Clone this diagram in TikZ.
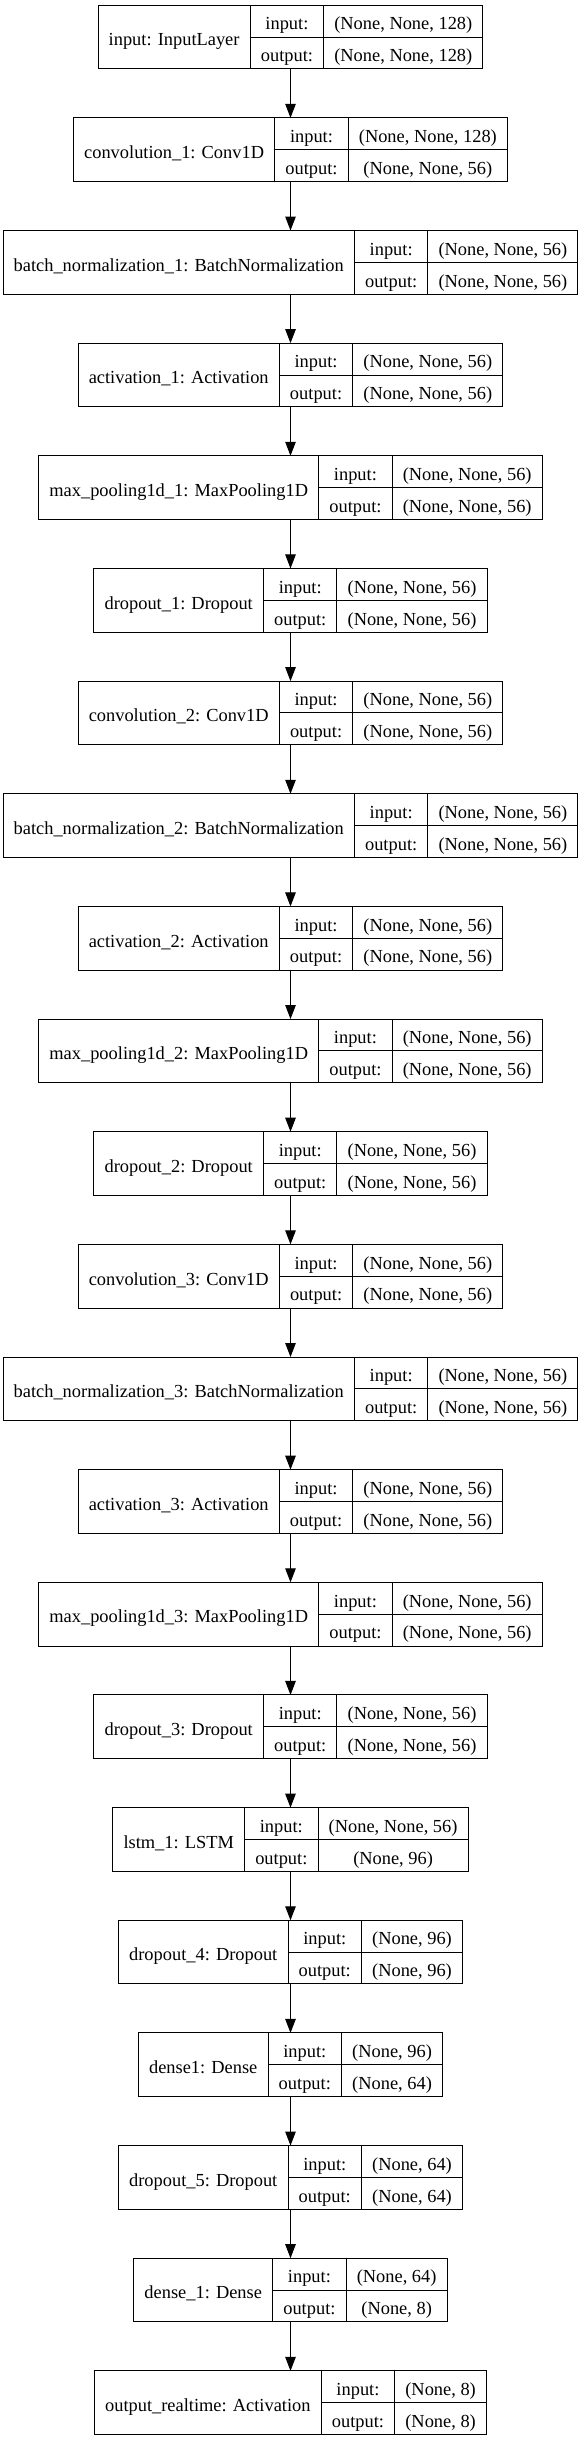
\documentclass[tikz,border=0pt]{standalone}
\usepackage{fontspec}
\setmainfont{Liberation Serif}
\usetikzlibrary{arrows.meta}
\newcommand\lf{\normalfont\fontsize{18.4}{22}\selectfont}
\newcommand\pd{21.33}
\newcommand\cx{290.5}
\newcommand\bh{63.7}
\newcommand\rh{31.85}
\newdimen\mwa \newdimen\mwb \newdimen\mwc \newdimen\mwd
\makeatletter
\newcommand\deflayer[5]{%
  \settowidth\mwa{\lf #3}%
  \settowidth\mwb{\lf output:}%
  \settowidth\mwc{\lf #4}%
  \settowidth\mwd{\lf #5}%
  \ifdim\mwd>\mwc \mwc=\mwd\fi
  \advance\mwa by \pd pt\relax
  \advance\mwb by \pd pt\relax
  \advance\mwc by \pd pt\relax
  \expandafter\xdef\csname wa@#1\endcsname{\strip@pt\mwa}%
  \expandafter\xdef\csname wb@#1\endcsname{\strip@pt\mwb}%
  \expandafter\xdef\csname wc@#1\endcsname{\strip@pt\mwc}%
  \expandafter\gdef\csname lb@#1\endcsname{#3}%
  \expandafter\gdef\csname in@#1\endcsname{#4}%
  \expandafter\gdef\csname ou@#1\endcsname{#5}%
  \expandafter\xdef\csname ix@#1\endcsname{#2}}
\newcommand\drawlayer[1]{%
  \edef\wa{\csname wa@#1\endcsname}%
  \edef\wb{\csname wb@#1\endcsname}%
  \edef\wc{\csname wc@#1\endcsname}%
  \edef\ix{\csname ix@#1\endcsname}%
  \pgfmathsetmacro\ww{\wa+\wb+\wc}%
  \pgfmathsetmacro\lx{\cx-\ww/2}%
  \pgfmathsetmacro\ty{5.2+112.65*\ix}%
  \node[outerbox, minimum width=\ww pt, anchor=north west] (#1) at (\lx,\ty) {};
  \node[field, minimum width=\wa pt, minimum height=\bh pt, anchor=north west] (#1-l) at (#1.north west) {\csname lb@#1\endcsname};
  \node[field, minimum width=\wb pt, anchor=north west] (#1-ik) at (#1-l.north east) {input:};
  \node[field, minimum width=\wb pt, anchor=north west] (#1-ok) at (#1-ik.south west) {output:};
  \node[field, minimum width=\wc pt, anchor=north west] (#1-iv) at (#1-ik.north east) {\csname in@#1\endcsname};
  \node[field, minimum width=\wc pt, anchor=north west] (#1-ov) at (#1-iv.south west) {\csname ou@#1\endcsname};
}
\makeatother
\AtBeginDocument{%
\deflayer{n0}{0}{input: InputLayer}{(None, None, 128)}{(None, None, 128)}%
\deflayer{n1}{1}{convolution\_1: Conv1D}{(None, None, 128)}{(None, None, 56)}%
\deflayer{n2}{2}{batch\_normalization\_1: BatchNormalization}{(None, None, 56)}{(None, None, 56)}%
\deflayer{n3}{3}{activation\_1: Activation}{(None, None, 56)}{(None, None, 56)}%
\deflayer{n4}{4}{max\_pooling1d\_1: MaxPooling1D}{(None, None, 56)}{(None, None, 56)}%
\deflayer{n5}{5}{dropout\_1: Dropout}{(None, None, 56)}{(None, None, 56)}%
\deflayer{n6}{6}{convolution\_2: Conv1D}{(None, None, 56)}{(None, None, 56)}%
\deflayer{n7}{7}{batch\_normalization\_2: BatchNormalization}{(None, None, 56)}{(None, None, 56)}%
\deflayer{n8}{8}{activation\_2: Activation}{(None, None, 56)}{(None, None, 56)}%
\deflayer{n9}{9}{max\_pooling1d\_2: MaxPooling1D}{(None, None, 56)}{(None, None, 56)}%
\deflayer{n10}{10}{dropout\_2: Dropout}{(None, None, 56)}{(None, None, 56)}%
\deflayer{n11}{11}{convolution\_3: Conv1D}{(None, None, 56)}{(None, None, 56)}%
\deflayer{n12}{12}{batch\_normalization\_3: BatchNormalization}{(None, None, 56)}{(None, None, 56)}%
\deflayer{n13}{13}{activation\_3: Activation}{(None, None, 56)}{(None, None, 56)}%
\deflayer{n14}{14}{max\_pooling1d\_3: MaxPooling1D}{(None, None, 56)}{(None, None, 56)}%
\deflayer{n15}{15}{dropout\_3: Dropout}{(None, None, 56)}{(None, None, 56)}%
\deflayer{n16}{16}{lstm\_1: LSTM}{(None, None, 56)}{(None, 96)}%
\deflayer{n17}{17}{dropout\_4: Dropout}{(None, 96)}{(None, 96)}%
\deflayer{n18}{18}{dense1: Dense}{(None, 96)}{(None, 64)}%
\deflayer{n19}{19}{dropout\_5: Dropout}{(None, 64)}{(None, 64)}%
\deflayer{n20}{20}{dense\_1: Dense}{(None, 64)}{(None, 8)}%
\deflayer{n21}{21}{output\_realtime: Activation}{(None, 8)}{(None, 8)}%
}
\begin{document}
\begin{tikzpicture}[x=1pt,y=-1pt,
  outerbox/.style={draw=black, line width=1pt, minimum height=\bh pt, inner sep=0pt, outer sep=0pt},
  field/.style={draw=black, line width=1pt, minimum height=\rh pt, inner sep=0pt, outer sep=0pt,
    font=\lf, text height=18pt, text depth=0.4pt, text=black},
  arr/.style={draw=black, line width=1pt, -{Triangle[length=14pt,width=10.5pt]}}]
\fill[white] (0,0) rectangle (581,2441);
\useasboundingbox (0,0) rectangle (581,2441);
\foreach \i in {0,...,21}{\drawlayer{n\i}}
\foreach \i [evaluate=\i as \j using int(\i+1)] in {0,...,20}
  \draw[arr] (n\i.south) -- (n\j.north);
\end{tikzpicture}
\end{document}
